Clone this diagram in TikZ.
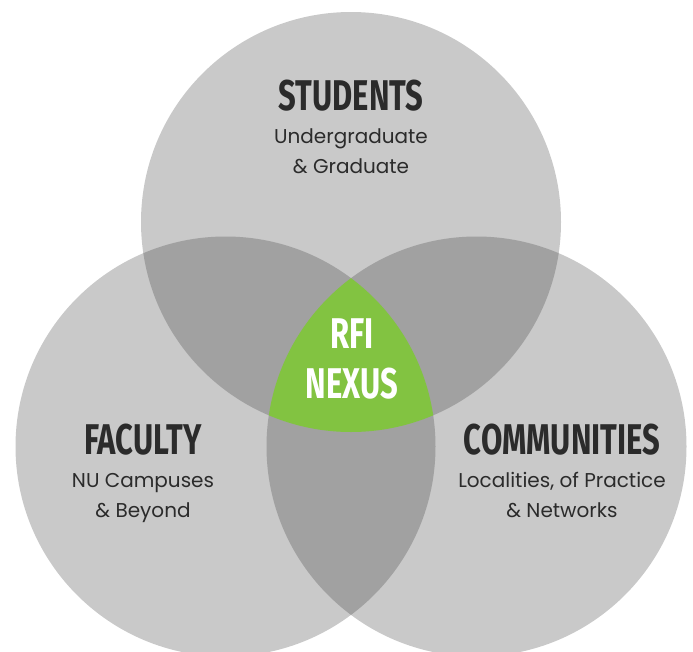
\documentclass[tikz,border=0pt]{standalone}
\usepackage{fontspec}
\setmainfont{Poppins}
\newfontfamily\headfont[FakeStretch=0.72]{Fira Sans}
\usetikzlibrary{positioning}
\definecolor{ringgray}{HTML}{C9C9C9}
\definecolor{lapgray}{HTML}{A1A1A1}
\definecolor{nexusgreen}{HTML}{82C341}
\definecolor{inkgray}{HTML}{2B2B2B}

\begin{document}
\begin{tikzpicture}[x=1pt,y=-1pt,every circle/.style={radius=210pt},
  heading/.style={font=\headfont\bfseries\fontsize{43}{43}\selectfont,text=inkgray,inner sep=0pt,anchor=base},
  subtext/.style={font=\fontsize{20}{30}\selectfont,text=inkgray,align=center,inner sep=0pt,anchor=base},
  nexus/.style={font=\headfont\bfseries\fontsize{43}{50}\selectfont,text=white,align=center,inner sep=0pt,anchor=base}]
\useasboundingbox (0,0) rectangle (693,651);
\coordinate (S) at (351,222);
\coordinate (F) at (225.5,446.5);
\coordinate (C) at (476.5,446.5);

% the three rings
\fill[ringgray] (S) circle;
\fill[ringgray] (F) circle;
\fill[ringgray] (C) circle;
\begin{scope}
  \clip (S) circle;
  \fill[lapgray] (F) circle;
  \fill[lapgray] (C) circle;
\end{scope}
\begin{scope}
  \clip (F) circle;
  \fill[lapgray] (C) circle;
\end{scope}
% the centre
\begin{scope}
  \clip (S) circle;
  \clip (F) circle;
  \fill[nexusgreen] (C) circle;
\end{scope}

\node[heading] (students) at (351,110) {STUDENTS};
\node[subtext] (studentsub) at (351,173) {Undergraduate\\\& Graduate};
\node[heading] (faculty) at (143,454) {FACULTY};
\node[subtext] (facultysub) at (143,517) {NU Campuses\\\& Beyond};
\node[heading] (communities) at (562,454) {COMMUNITIES};
\node[subtext] (communitiessub) at (562,517) {Localities, of Practice\\\& Networks};
\node[nexus] (rfi) at (352,398) {RFI\\NEXUS};
\end{tikzpicture}
\end{document}
